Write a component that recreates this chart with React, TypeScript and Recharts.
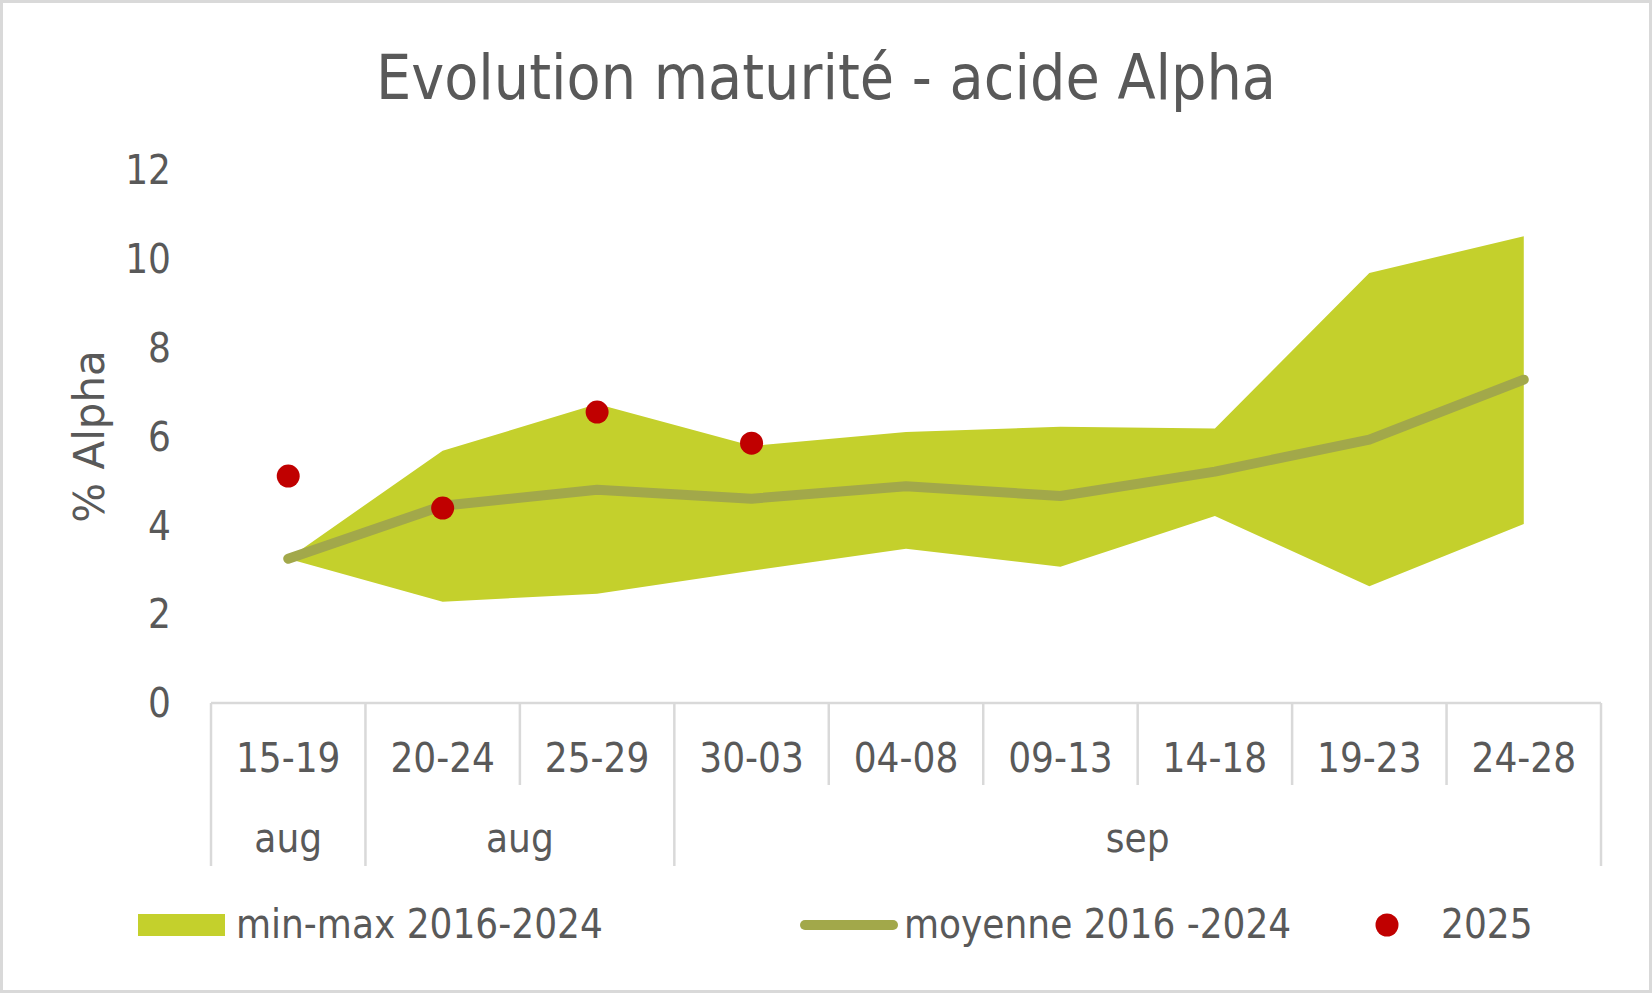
import React from 'react';
import { ComposedChart, Area, Line, XAxis, YAxis, Legend } from 'recharts';

const categories = ['15-19', '20-24', '25-29', '30-03', '04-08', '09-13', '14-18', '19-23', '24-28'];
const groupLabels = ['aug', 'aug', 'sep'];
const groupSpans = [1, 2, 6];
const minValues = [3.25, 2.28, 2.46, 2.98, 3.47, 3.07, 4.21, 2.63, 4.03];
const maxValues = [3.25, 5.68, 6.73, 5.79, 6.10, 6.22, 6.18, 9.68, 10.51];
const meanValues = [3.25, 4.44, 4.80, 4.60, 4.88, 4.66, 5.21, 5.93, 7.28];
const values2025: (number | null)[] = [5.11, 4.39, 6.55, 5.85, null, null, null, null, null];
const yTicks = [0, 2, 4, 6, 8, 10, 12];

const seriesNames = ['min-max 2016-2024', 'moyenne 2016 -2024', '2025'];
const titleText = 'Evolution maturité - acide Alpha';
const yAxisTitle = '% Alpha';

const AREA_COLOR = '#c4d02c';
const LINE_COLOR = '#a2a84a';
const DOT_COLOR = '#c00000';
const TEXT_COLOR = '#595959';
const AXIS_COLOR = '#d9d9d9';
const FONT = "'DejaVu Sans Condensed', 'DejaVu Sans', sans-serif";

const data = categories.map((c, i) => ({
  cat: c,
  range: [minValues[i], maxValues[i]],
  mean: meanValues[i],
  y2025: values2025[i],
}));

const groupStarts: number[] = [];
{
  let acc = 0;
  groupSpans.forEach((s) => {
    groupStarts.push(acc);
    acc += s;
  });
}

const CategoryTick = (props: any) => {
  const { x, y, payload, index, width } = props;
  const band = width / categories.length;
  const half = band / 2;
  const gi = groupStarts.indexOf(index);
  const isGroupStart = gi >= 0;
  const isLast = index === categories.length - 1;
  const els: React.ReactNode[] = [];
  els.push(
    <text key="t" x={x} y={y + 69} textAnchor="middle" fill={TEXT_COLOR} fontSize={40} fontFamily={FONT}>
      {payload.value}
    </text>
  );
  els.push(
    <line key="l" x1={x - half} x2={x - half} y1={y} y2={y + (isGroupStart ? 163 : 82)} stroke={AXIS_COLOR} strokeWidth={2.5} />
  );
  if (isLast) {
    els.push(<line key="r" x1={x + half} x2={x + half} y1={y} y2={y + 163} stroke={AXIS_COLOR} strokeWidth={2.5} />);
  }
  if (isGroupStart) {
    const cx = x - half + (groupSpans[gi] * band) / 2;
    els.push(
      <text key="g" x={cx} y={y + 149} textAnchor="middle" fill={TEXT_COLOR} fontSize={40} fontFamily={FONT}>
        {groupLabels[gi]}
      </text>
    );
  }
  return <g>{els}</g>;
};

const YTitle = (props: any) => {
  const vb = props.viewBox || {};
  const cy = vb.y + vb.height / 2;
  const cx = 89;
  return (
    <text
      x={cx}
      y={cy}
      transform={`rotate(-90, ${cx}, ${cy})`}
      textAnchor="middle"
      dominantBaseline="central"
      fill={TEXT_COLOR}
      fontSize={42}
      fontFamily="'DejaVu Sans', sans-serif"
    >
      {yAxisTitle}
    </text>
  );
};

const renderLegend = () => (
  <svg width={1652} height={100} style={{ display: 'block', overflow: 'visible' }}>
    <rect x={138} y={21} width={87} height={22} fill={AREA_COLOR} />
    <text x={236} y={45} fill={TEXT_COLOR} fontSize={40} fontFamily={FONT}>{seriesNames[0]}</text>
    <line x1={805} x2={893} y1={32} y2={32} stroke={LINE_COLOR} strokeWidth={10} strokeLinecap="round" />
    <text x={904} y={45} fill={TEXT_COLOR} fontSize={40} fontFamily={FONT}>{seriesNames[1]}</text>
    <circle cx={1387} cy={32} r={11.5} fill={DOT_COLOR} />
    <text x={1441} y={45} fill={TEXT_COLOR} fontSize={40} fontFamily={FONT}>{seriesNames[2]}</text>
  </svg>
);

export default function App() {
  return (
    <div style={{ position: 'absolute', left: 0, top: 0, width: 1652, height: 993, background: '#fff', overflow: 'hidden' }}>
      <ComposedChart width={1652} height={993} data={data} margin={{ top: 170, right: 51, bottom: 0, left: 0 }}>
        <XAxis
          dataKey="cat"
          scale="band"
          height={190}
          axisLine={{ stroke: AXIS_COLOR, strokeWidth: 2.5 }}
          tickLine={false}
          tickSize={0}
          tickMargin={0}
          interval={0}
          tick={<CategoryTick />}
        />
        <YAxis
          width={211}
          domain={[0, 12]}
          ticks={yTicks}
          axisLine={false}
          tickLine={false}
          tickSize={0}
          tickMargin={40}
          tick={{ fill: TEXT_COLOR, fontSize: 40, fontFamily: FONT }}
          label={<YTitle />}
        />
        <Area dataKey="range" fill={AREA_COLOR} fillOpacity={1} stroke="none" isAnimationActive={false} activeDot={false} />
        <Line
          dataKey="mean"
          stroke={LINE_COLOR}
          strokeWidth={10}
          strokeLinecap="round"
          strokeLinejoin="round"
          dot={false}
          activeDot={false}
          isAnimationActive={false}
        />
        <Line
          dataKey="y2025"
          stroke="none"
          dot={{ r: 11.5, fill: DOT_COLOR, stroke: 'none' }}
          activeDot={false}
          isAnimationActive={false}
          connectNulls={false}
        />
        <Legend verticalAlign="bottom" height={100} content={renderLegend} wrapperStyle={{ left: 0, bottom: 0, width: 1652 }} />
      </ComposedChart>
      <svg width={1652} height={130} style={{ position: 'absolute', left: 0, top: 0, pointerEvents: 'none' }}>
        <text x={826} y={99} textAnchor="middle" fill={TEXT_COLOR} fontSize={62} fontFamily={FONT}>
          {titleText}
        </text>
      </svg>
      <div
        style={{
          position: 'absolute',
          left: 0,
          top: 0,
          width: 1652,
          height: 993,
          boxSizing: 'border-box',
          border: `3px solid ${AXIS_COLOR}`,
          pointerEvents: 'none',
        }}
      />
    </div>
  );
}
